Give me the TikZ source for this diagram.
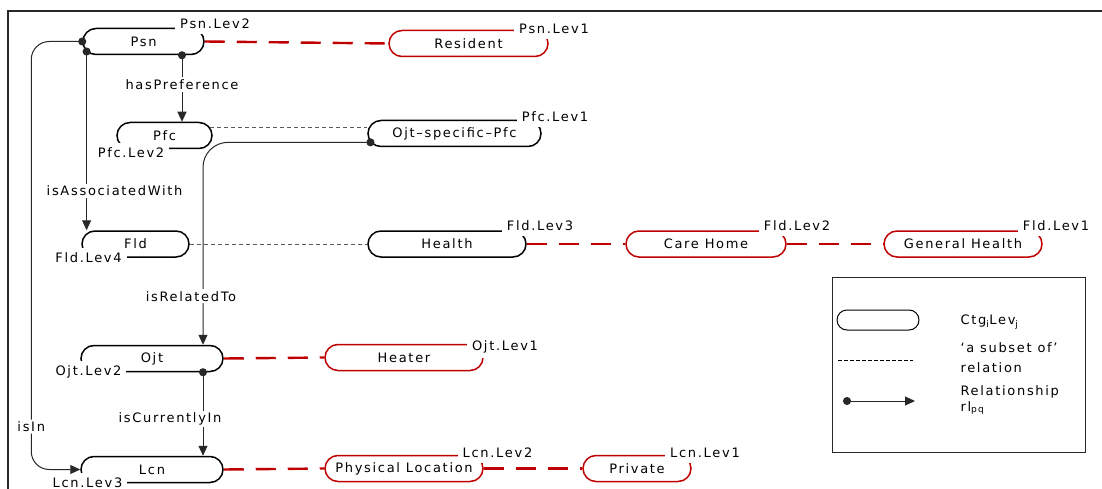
\documentclass[tikz,border=0pt]{standalone}
\usepackage{fontspec}
\setmainfont{DejaVu Sans}[LetterSpace=13]
\usetikzlibrary{shapes.misc,arrows.meta,calc}
\definecolor{lvred}{RGB}{192,0,0}
\definecolor{subgrey}{RGB}{90,90,90}
\definecolor{linegrey}{RGB}{40,40,40}
\begin{document}
\begin{tikzpicture}[x=1pt,y=-1pt,
  every node/.style={font=\fontsize{13}{20}\selectfont},
  ctg/.style={shape=rounded rectangle, draw=black, line width=1.5pt,
    minimum height=26pt, inner xsep=0pt, inner ysep=0pt},
  ctgred/.style={ctg, draw=lvred},
  lev/.style={fill=white, inner xsep=5pt, inner ysep=5pt},
  lvline/.style={draw=lvred, line width=2.4pt, dash pattern=on 20pt off 12pt},
  subset/.style={draw=subgrey, line width=0.9pt, dash pattern=on 4pt off 3pt},
  rel/.style={draw=linegrey, line width=1pt, shorten <=-4pt,
    {Circle[length=8pt]}-{Triangle[length=10pt,width=9pt]}},
  rl/.style={fill=white, inner sep=2pt},
]
\useasboundingbox (0,0) rectangle (1102,489);
\fill[white] (0,0) rectangle (1102,489);

% frame
\draw[linegrey, line width=1.6pt] (1102,11) -- (8,11) -- (8,489);

% category levels
\node[ctg, minimum width=121pt] (psn) at (143.5,41.5) {Psn};
\node[ctgred, minimum width=159pt] (res) at (468.5,43.5) {Resident};
\node[ctg, minimum width=95pt] (pfc) at (164.5,135.5) {Pfc};
\node[ctg, minimum width=173pt] (osp) at (454.5,133.5) {Ojt–specific–Pfc};
\node[ctg, minimum width=107pt] (fld) at (135.5,244) {Fld};
\node[ctg, minimum width=158pt] (hlth) at (447,244) {Health};
\node[ctgred, minimum width=160pt] (care) at (706,244) {Care Home};
\node[ctgred, minimum width=158pt] (gen) at (963,244) {General Health};
\node[ctg, minimum width=142pt] (ojt) at (152,358.5) {Ojt};
\node[ctgred, minimum width=158pt] (heat) at (404,357.5) {Heater};
\node[ctg, minimum width=142pt] (lcn) at (152,469.5) {Lcn};
\node[ctgred, minimum width=158pt] (phys) at (404,468.5) {Physical Location};
\node[ctgred, minimum width=108pt] (priv) at (637,468.5) {Private};

% level tags
\node[lev] (psnl2) at (215,24) {Psn.Lev2};
\node[lev] (psnl1) at (554,29) {Psn.Lev1};
\node[lev] (pfcl2) at (131,153) {Pfc.Lev2};
\node[lev] (pfcl1) at (555,117) {Pfc.Lev1};
\node[lev] (fldl4) at (88.5,258) {Fld.Lev4};
\node[lev] (fldl3) at (540,226) {Fld.Lev3};
\node[lev] (fldl2) at (797,226) {Fld.Lev2};
\node[lev] (fldl1) at (1056,226) {Fld.Lev1};
\node[lev] (ojtl2) at (88.5,372) {Ojt.Lev2};
\node[lev] (ojtl1) at (505,347) {Ojt.Lev1};
\node[lev] (lcnl3) at (87.5,483) {Lcn.Lev3};
\node[lev] (lcnl2) at (497.5,453) {Lcn.Lev2};
\node[lev] (lcnl1) at (705,453) {Lcn.Lev1};

% level links
\draw[lvline] (psn.east) -- (res.west);
\draw[lvline] (hlth.east) -- (care.west);
\draw[lvline] (care.east) -- (gen.west);
\draw[lvline] (ojt.east) -- (heat.west);
\draw[lvline] (lcn.east) -- (phys.west);
\draw[lvline] (phys.east) -- (priv.west);

% subset relations
\draw[subset] (pfc.10) -- (pfc.10 -| osp.west);
\draw[subset] (fld.east) -- (fld.east -| hlth.west);

% relationships
\draw[rel, rounded corners=18pt] (psn.west) -- ++(-51,0) |- (lcn.west)
  node[rl, pos=0.45] {isIn};
\draw[rel] ([xshift=38.5pt]psn.south) -- ([xshift=38.5pt]psn.south |- pfc.north)
  node[rl, pos=0.44] {hasPreference};
\draw[rel] (psn.190.7) -- (psn.190.7 |- fld.north)
  node[rl, pos=0.78, xshift=28pt] {isAssociatedWith};
\draw[rel, rounded corners=25pt] (osp.186) -| ([xshift=51pt]ojt.north)
  node[rl, pos=0.88, xshift=-12pt] {isRelatedTo};
\draw[rel] ([xshift=51pt]ojt.south) -- ([xshift=51pt]ojt.south |- lcn.north)
  node[rl, pos=0.56, xshift=-33pt] {isCurrentlyIn};

% legend
\draw[linegrey, line width=1pt] (832,277) rectangle (1085,452);
\node[ctg, line width=1pt, minimum width=82pt, minimum height=20pt] (lgbox) at (878,320) {};
\node[anchor=west] (lgctg) at (957,322) {Ctg\textsubscript{i}Lev\textsubscript{j}};
\coordinate (lgs1) at (838,360);
\coordinate (lgs2) at (913,360);
\draw[black, line width=0.7pt, dash pattern=on 3.5pt off 2.5pt] (lgs1) -- (lgs2);
\node[anchor=west, align=left] (lgsub) at (957,358) {‘a subset of’\\relation};
\coordinate (lgr1) at (843,401);
\coordinate (lgr2) at (915,401);
\draw[rel, shorten <=0pt] (lgr1) -- (lgr2);
\node[anchor=west, align=left] (lgrel) at (957,400) {Relationship\\[-4pt]rl\textsubscript{pq}};
\end{tikzpicture}
\end{document}
